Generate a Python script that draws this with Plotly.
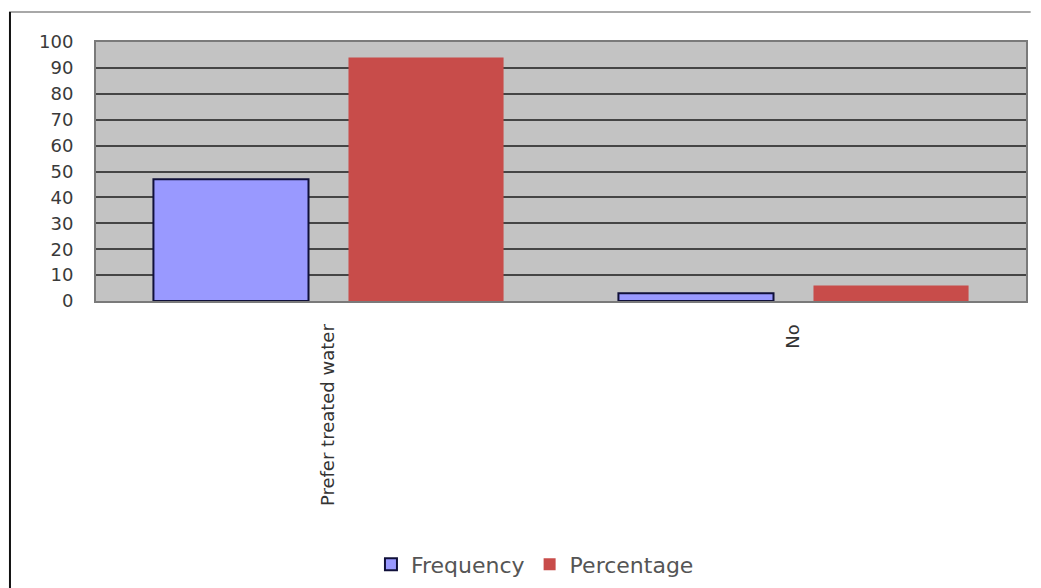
import plotly.graph_objects as go

categories = ["Prefer treated water", "No"]
frequency = [47, 3]
percentage = [94, 6]
y_ticks = [0, 10, 20, 30, 40, 50, 60, 70, 80, 90, 100]

FONT = "DejaVu Sans"

fig = go.Figure()
fig.add_trace(go.Bar(
    name="Frequency", x=categories, y=frequency,
    marker=dict(color="#9999ff", line=dict(color="#10103a", width=2)),
))
fig.add_trace(go.Bar(
    name="Percentage", x=categories, y=percentage,
    marker=dict(color="#c84c4a", line=dict(width=0)),
))

fig.update_layout(
    width=1041, height=588,
    margin=dict(l=96, r=15, t=42, b=287),
    paper_bgcolor="white",
    plot_bgcolor="#c3c3c3",
    barmode="group",
    bargap=0.161,
    bargroupgap=0.205,
    font=dict(family=FONT, color="#333333"),
    showlegend=True,
    legend=dict(
        orientation="h", x=0.472, xanchor="center",
        yref="container", y=0.04, yanchor="middle",
        font=dict(family=FONT, size=22, color="#555555"),
        itemwidth=30, tracegroupgap=0,
    ),
    shapes=[
        # outer frame: top rule and left rule
        dict(type="line", xref="paper", yref="paper",
             x0=-0.0935, x1=1.005, y0=1.116, y1=1.116,
             line=dict(color="#a8a8a8", width=2)),
        dict(type="line", xref="paper", yref="paper",
             x0=-0.0925, x1=-0.0925, y0=1.116, y1=-1.12,
             line=dict(color="#111111", width=2)),
    ],
)

fig.update_yaxes(
    range=[0, 100], tickvals=y_ticks, ticktext=[str(v) for v in y_ticks],
    showgrid=True, gridcolor="#454545", gridwidth=2,
    zeroline=False, showline=True, mirror=True,
    linecolor="#7a7a7a", linewidth=2,
    ticks="", ticklabelstandoff=17,
    tickfont=dict(family=FONT, size=18, color="#3a3a3a"),
)
fig.update_xaxes(
    showgrid=False, zeroline=False, showline=True, mirror=True,
    linecolor="#7a7a7a", linewidth=2,
    tickangle=-90, ticks="", ticklabelstandoff=14,
    tickfont=dict(family=FONT, size=18, color="#333333"),
)

fig.write_html("out.html")
